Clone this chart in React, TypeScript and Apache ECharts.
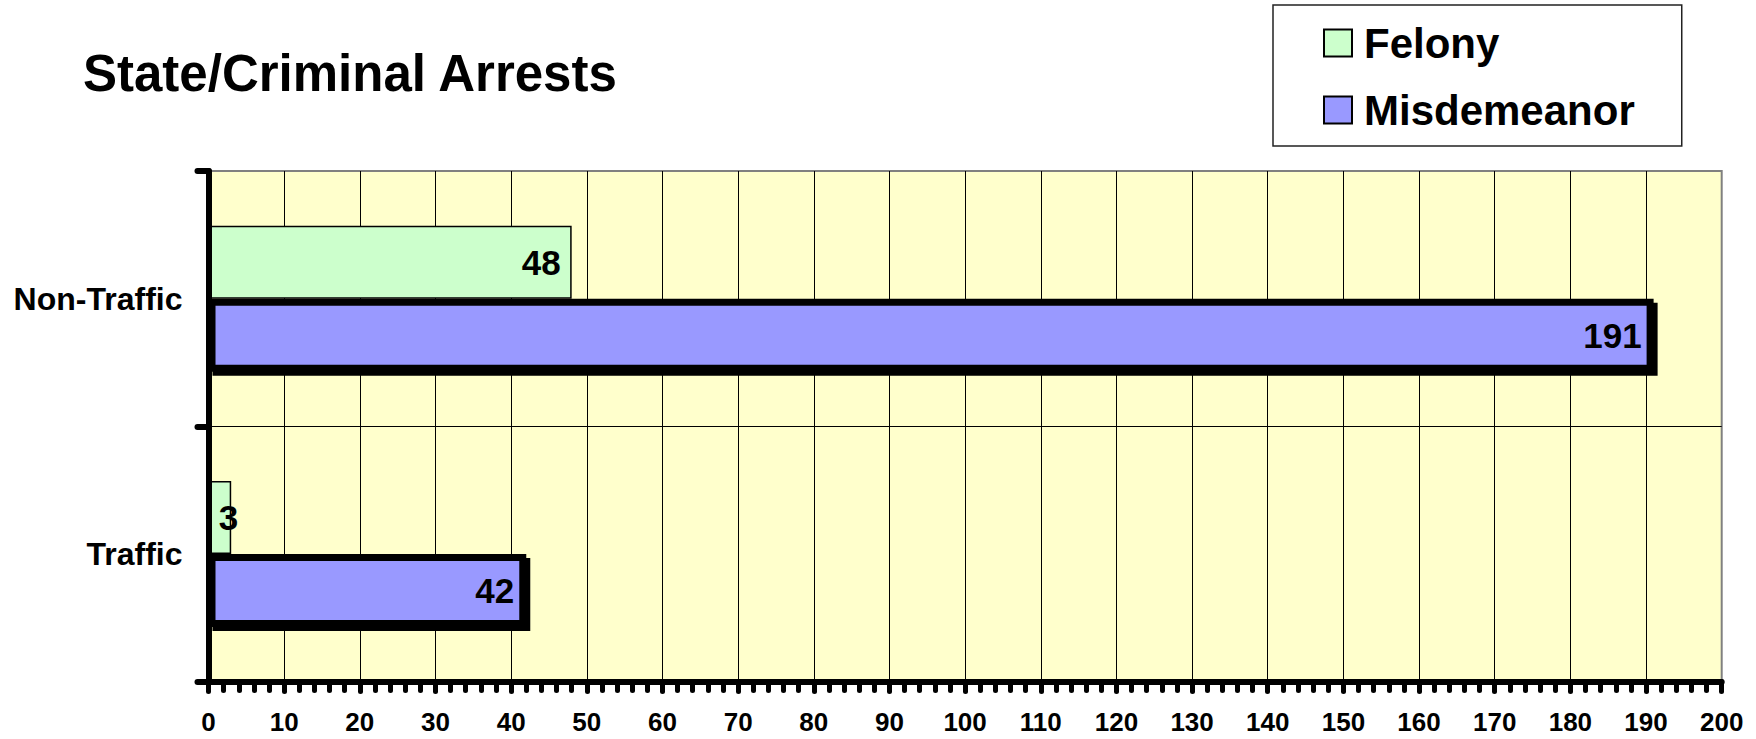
import React, { useEffect, useRef } from "react";
import * as echarts from "echarts";

const titleText = "State/Criminal Arrests";
const categories = ["Traffic", "Non-Traffic"];
const seriesNames = ["Felony", "Misdemeanor"];
const felony = [3, 48];
const misdemeanor = [42, 191];
const xMin = 0;
const xMax = 200;
const xInterval = 10;

const FONT = "'Liberation Sans', Arial, Helvetica, sans-serif";

export default function App() {
  const ref = useRef<HTMLDivElement | null>(null);

  useEffect(() => {
    document.body.style.margin = "0";
    if (!ref.current) return;
    const chart = echarts.init(ref.current, null, { renderer: "svg" });

    const felonyData = felony.map((v) =>
      v < 10 ? { value: v, label: { offset: [18, 0] } } : v
    );

    chart.setOption({
      animation: false,
      backgroundColor: "#ffffff",
      textStyle: { fontFamily: FONT },
      title: {
        text: titleText,
        left: 83,
        top: 48,
        padding: 0,
        textStyle: {
          fontFamily: FONT,
          fontSize: 51,
          fontWeight: "bold",
          color: "#000000",
        },
      },
      legend: {
        orient: "vertical",
        left: 1273,
        top: 5,
        padding: [17, 47, 15, 50],
        itemGap: 25,
        itemWidth: 28,
        itemHeight: 27,
        icon: "rect",
        selectedMode: false,
        backgroundColor: "#ffffff",
        borderColor: "#222222",
        borderWidth: 1.5,
        borderRadius: 0,
        data: seriesNames,
        textStyle: {
          fontFamily: FONT,
          fontSize: 42,
          fontWeight: "bold",
          color: "#000000",
          padding: [0, 0, 0, 7],
        },
      },
      grid: {
        left: 208.5,
        right: 34.3,
        top: 171,
        bottom: 57.5,
        show: true,
        backgroundColor: "#FFFFCC",
        borderColor: "#808080",
        borderWidth: 2,
        containLabel: false,
      },
      xAxis: {
        type: "value",
        min: xMin,
        max: xMax,
        interval: xInterval,
        axisLine: {
          show: true,
          onZero: false,
          lineStyle: { color: "#000000", width: 6, cap: "round" },
        },
        axisTick: {
          show: true,
          length: 10,
          lineStyle: { color: "#000000", width: 5, cap: "round" },
        },
        minorTick: {
          show: true,
          splitNumber: 5,
          length: 9,
          lineStyle: { color: "#000000", width: 5, cap: "round" },
        },
        axisLabel: {
          margin: 27,
          fontFamily: FONT,
          fontSize: 26,
          fontWeight: "bold",
          color: "#000000",
        },
        splitLine: {
          show: true,
          showMinLine: false,
          showMaxLine: false,
          lineStyle: { color: "#000000", width: 1 },
        },
      },
      yAxis: {
        type: "category",
        data: categories,
        z: 10,
        axisLine: {
          show: true,
          lineStyle: { color: "#000000", width: 6, cap: "round" },
        },
        axisTick: {
          show: true,
          length: 11,
          lineStyle: { color: "#000000", width: 6, cap: "round" },
        },
        axisLabel: {
          margin: 26,
          fontFamily: FONT,
          fontSize: 32,
          fontWeight: "bold",
          color: "#000000",
        },
        splitLine: {
          show: true,
          showMinLine: false,
          showMaxLine: false,
          lineStyle: { color: "#000000", width: 1 },
        },
      },
      series: [
        {
          name: seriesNames[0],
          type: "bar",
          data: felonyData,
          barWidth: 73,
          barGap: "0%",
          itemStyle: {
            color: "#CCFFCC",
            borderColor: "#000000",
            borderWidth: 1.5,
          },
          label: {
            show: true,
            position: "insideRight",
            distance: 11,
            fontFamily: FONT,
            fontSize: 35,
            fontWeight: "bold",
            color: "#000000",
          },
        },
        {
          name: seriesNames[1],
          type: "bar",
          data: misdemeanor,
          barWidth: 73,
          barGap: "0%",
          itemStyle: {
            color: "#9999FF",
            borderColor: "#000000",
            borderWidth: 7,
            shadowColor: "#000000",
            shadowOffsetX: 4,
            shadowOffsetY: 4,
            shadowBlur: 0,
          },
          label: {
            show: true,
            position: "insideRight",
            distance: 12,
            fontFamily: FONT,
            fontSize: 35,
            fontWeight: "bold",
            color: "#000000",
          },
        },
      ],
    });

    return () => {
      chart.dispose();
    };
  }, []);

  return <div ref={ref} style={{ width: 1756, height: 739 }} />;
}
